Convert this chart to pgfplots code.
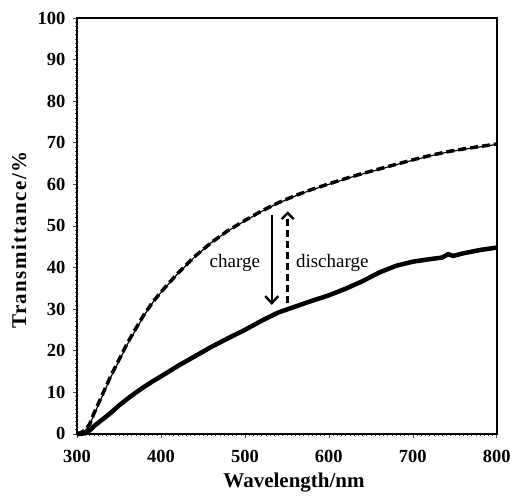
\documentclass[border=0pt]{standalone}
\usepackage{pgfplots}
\pgfplotsset{compat=1.18}
\usepackage{fontspec}
\setmainfont{Liberation Serif}
\usetikzlibrary{arrows.meta}
\begin{document}
\begin{tikzpicture}
\begin{axis}[
  scale only axis, width=420pt, height=416pt,
  xmin=300, xmax=800, ymin=0, ymax=100,
  xtick={300,400,...,800}, ytick={0,10,...,100},
  minor x tick num=19, minor y tick num=9,
  tick align=outside, tick pos=left,
  major tick length=4pt, minor tick length=1.8pt,
  minor tick style={line width=0.4pt, black!70},
  major tick style={line width=0.6pt, black!70},
  axis line style={line width=1.6pt},
  /pgf/number format/assume math mode=true,
  ticklabel style={font=\fontsize{18.5}{18.5}\selectfont\bfseries},
  xticklabel style={yshift=-9pt},
  yticklabel style={xshift=-4pt},
  xlabel={Wavelength/nm},
  ylabel={\addfontfeature{LetterSpace=7}Transmittance/\%},
  label style={font=\fontsize{21}{21}\selectfont\bfseries},
  xlabel style={at={(axis description cs:0.517,-0.13)}, anchor=base},
  ylabel style={at={(axis description cs:-0.138,0.466)}, anchor=center, rotate=0},
  clip=false,
]
% upper, thin solid
\addplot[black, line width=1.2pt] coordinates {
(300,0) (305,0.2) (310,0.8) (315,2) (320,4.5) (330,9) (340,13.5) (350,17.5)
(360,21.5) (370,25) (380,28.5) (390,31.5) (400,34) (420,38.5) (440,42.5)
(460,46) (480,48.8) (500,51.2) (520,53.5) (540,55.5) (560,57.2) (580,58.7)
(600,60) (620,61.3) (640,62.5) (660,63.6) (680,64.7) (700,65.8) (720,66.8)
(740,67.7) (760,68.4) (780,69) (800,69.6)};
% upper, dashed
\addplot[black, line width=3.5pt, dash pattern=on 8pt off 4pt] coordinates {
(300,0) (305,0.3) (310,1) (315,2.3) (320,4.8) (330,9.3) (340,13.8) (350,17.8)
(360,21.8) (370,25.3) (380,28.7) (390,31.6) (400,34.1) (420,38.6) (440,42.6)
(460,46) (480,48.9) (500,51.3) (520,53.6) (540,55.6) (560,57.3) (580,58.8)
(600,60.1) (620,61.4) (640,62.6) (660,63.7) (680,64.8) (700,65.9) (720,66.9)
(740,67.8) (760,68.5) (780,69.1) (800,69.7)};
% lower, thick solid
\addplot[black, line width=4.5pt] coordinates {
(300,0) (305,0) (310,0.2) (315,0.8) (320,1.8) (330,3.4) (340,5) (350,6.8)
(360,8.4) (370,9.9) (380,11.3) (390,12.6) (400,13.8) (420,16.3) (440,18.6)
(460,20.9) (480,23) (500,25) (520,27.2) (540,29.2) (560,30.6) (580,32)
(600,33.3) (620,34.9) (640,36.7) (660,38.8) (680,40.4) (700,41.4) (720,42)
(735,42.4) (742,43.2) (748,42.8) (760,43.4) (780,44.2) (800,44.8)};
% arrows
\draw[line width=2.4pt, -{Straight Barb[length=7pt,width=13pt,line width=2.4pt]}] (axis cs:532,52.6) -- (axis cs:532,31);
\draw[line width=3.2pt, dash pattern=on 7pt off 4pt, -{Straight Barb[length=6pt,width=12pt,line width=2.4pt]}] (axis cs:551,31.5) -- (axis cs:551,53.5);
\node[font=\fontsize{19}{19}\selectfont] at (axis cs:488,41) {charge};
\node[font=\fontsize{19}{19}\selectfont] at (axis cs:604,41) {discharge};
% bounding box
\path (axis description cs:-0.18333,-0.16346) rectangle (axis description cs:1.04048,1.04327);
\end{axis}
\end{tikzpicture}
\end{document}
